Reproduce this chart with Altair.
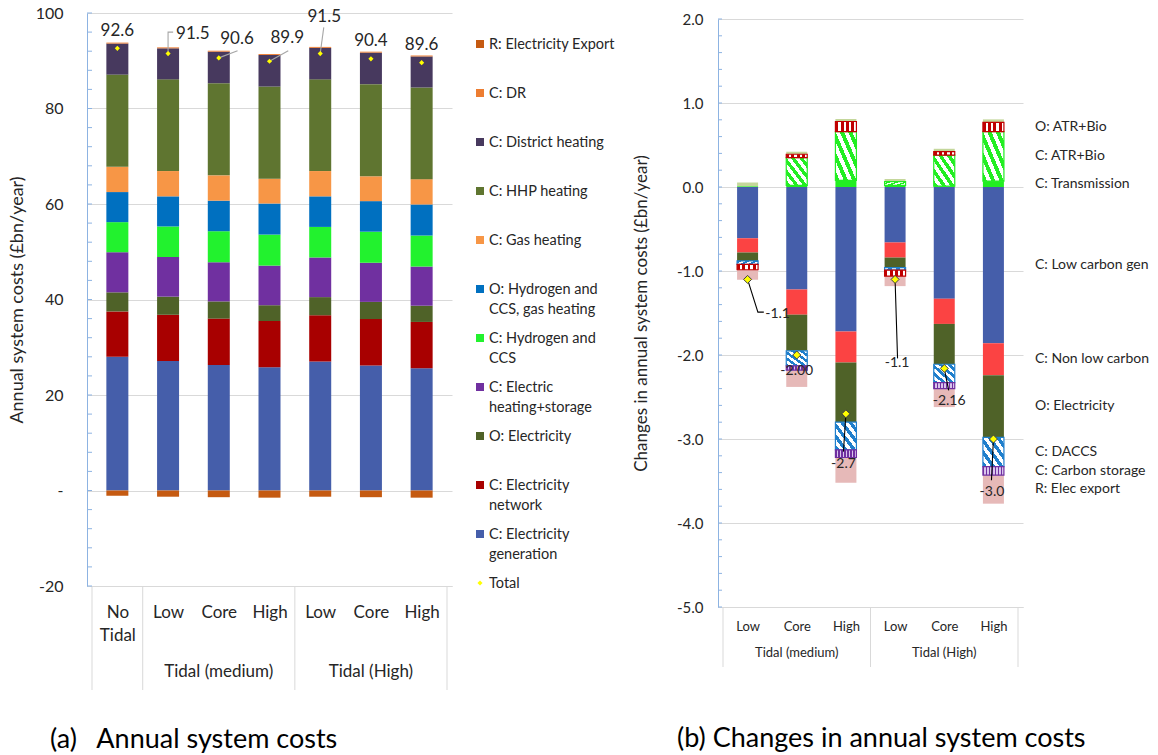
import json

import altair as alt
import pandas as pd

FONT = "Lato"
INK = "#262626"
AXIS_BLUE = "#8DB3E2"
GRID = "#D9D9D9"
YELLOW = "#FFFF00"

# ===================== (a) Annual system costs (£bn/year) =====================
A_SCENARIOS = ["No Tidal", "Low", "Core", "High", "Low", "Core", "High"]
A_GROUPS = ["Tidal (medium)", "Tidal (High)"]
A_GROUP_MEMBERS = [[1, 2, 3], [4, 5, 6]]

# stacking order, from the zero line outwards
A_SERIES = [
    "C: Electricity generation", "C: Electricity network", "O: Electricity",
    "C: Electric heating+storage", "C: Hydrogen and CCS",
    "O: Hydrogen and CCS, gas heating", "C: Gas heating", "C: HHP heating",
    "C: District heating", "C: DR", "R: Electricity Export",
]
A_COLOURS = ["#455EAA", "#A80000", "#4F6228", "#7030A0", "#22F22E", "#0070C0",
             "#F79646", "#5F7530", "#47395E", "#ED7D31", "#C55A11"]

A_ELEC_GENERATION = [28.0, 27.1, 26.3, 25.8, 27.0, 26.2, 25.6]
A_ELEC_NETWORK = [9.5, 9.7, 9.7, 9.7, 9.7, 9.7, 9.7]
A_O_ELECTRICITY = [4.0, 3.8, 3.6, 3.3, 3.8, 3.6, 3.4]
A_ELEC_HEATING = [8.4, 8.3, 8.2, 8.3, 8.3, 8.2, 8.2]
A_HYDROGEN_CCS = [6.3, 6.4, 6.5, 6.5, 6.4, 6.5, 6.5]
A_O_HYDROGEN_GAS = [6.3, 6.3, 6.4, 6.5, 6.4, 6.4, 6.5]
A_GAS_HEATING = [5.3, 5.3, 5.3, 5.2, 5.3, 5.2, 5.3]
A_HHP_HEATING = [19.3, 19.2, 19.3, 19.3, 19.2, 19.3, 19.2]
A_DISTRICT_HEATING = [6.5, 6.5, 6.6, 6.6, 6.6, 6.6, 6.5]
A_DR = [0.2, 0.2, 0.2, 0.2, 0.2, 0.2, 0.2]
A_ELEC_EXPORT = [-1.1, -1.3, -1.4, -1.5, -1.3, -1.4, -1.5]
A_VALUES = [A_ELEC_GENERATION, A_ELEC_NETWORK, A_O_ELECTRICITY, A_ELEC_HEATING,
            A_HYDROGEN_CCS, A_O_HYDROGEN_GAS, A_GAS_HEATING, A_HHP_HEATING,
            A_DISTRICT_HEATING, A_DR, A_ELEC_EXPORT]

A_TOTAL = [92.6, 91.5, 90.6, 89.9, 91.5, 90.4, 89.6]
A_TOTAL_TEXT = ["92.6", "91.5", "90.6", "89.9", "91.5", "90.4", "89.6"]

A_TICKS = [-20, 0, 20, 40, 60, 80, 100]
A_TICK_LABELS = ["-20", "-", "20", "40", "60", "80", "100"]

# legend, top to bottom
A_LEGEND_TEXT = [
    "R: Electricity Export", "C: DR", "C: District heating", "C: HHP heating",
    "C: Gas heating", " O: Hydrogen and\nCCS, gas heating", "C: Hydrogen and\nCCS",
    "C: Electric\nheating+storage", "O: Electricity", "C: Electricity\nnetwork",
    "C: Electricity\ngeneration", "Total",
]

# total call-outs: label anchor (category units, £bn) and leader-line bends
A_LABEL_AT = [(0.0, 96.2), (1.49, 95.6), (2.36, 94.5), (3.35, 94.7),
              (4.08, 99.1), (5.0, 94.2), (6.0, 93.3)]
A_LEADERS = {1: [(1.0, 96.0), (1.1, 96.0)], 2: [(2.37, 92.1)],
             3: [(3.37, 92.1)], 4: [(4.07, 97.0)]}

# ================= (b) Changes in annual system costs (£bn/year) =================
B_SCENARIOS = ["Low", "Core", "High", "Low", "Core", "High"]
B_GROUPS = ["Tidal (medium)", "Tidal (High)"]
B_GROUP_MEMBERS = [[0, 1, 2], [3, 4, 5]]

B_SERIES = ["C: Transmission", "C: Low carbon gen", "C: Non low carbon gen",
            "O: Electricity", "C: ATR+Bio", "C: DACCS", "O: ATR+Bio",
            "C: Carbon storage", "R: Elec export", "C: Other"]

B_TRANSMISSION = [0.01, 0.02, 0.08, 0.02, 0.01, 0.07]
B_LOW_CARBON_GEN = [-0.61, -1.22, -1.72, -0.66, -1.33, -1.86]
B_NON_LOW_CARBON_GEN = [-0.17, -0.30, -0.37, -0.18, -0.30, -0.38]
B_O_ELECTRICITY = [-0.10, -0.43, -0.71, -0.12, -0.48, -0.74]
B_C_ATR_BIO = [0.0, 0.33, 0.58, 0.045, 0.37, 0.59]
B_DACCS = [-0.04, -0.18, -0.33, -0.03, -0.22, -0.35]
B_O_ATR_BIO = [-0.065, 0.04, 0.12, -0.07, 0.04, 0.11]
B_CARBON_STORAGE = [0.0, -0.05, -0.09, 0.0, -0.07, -0.10]
B_ELEC_EXPORT = [-0.12, -0.20, -0.30, -0.12, -0.22, -0.34]
B_OTHER = [0.045, 0.03, 0.03, 0.03, 0.035, 0.035]
B_VALUES = [B_TRANSMISSION, B_LOW_CARBON_GEN, B_NON_LOW_CARBON_GEN, B_O_ELECTRICITY,
            B_C_ATR_BIO, B_DACCS, B_O_ATR_BIO, B_CARBON_STORAGE, B_ELEC_EXPORT, B_OTHER]
B_LABELLED = [s for s in B_SERIES if s != "C: Other"]

B_TOTAL = [-1.1, -2.00, -2.7, -1.1, -2.16, -3.0]
B_TOTAL_TEXT = ["-1.1", "-2.00", "-2.7", "-1.1", "-2.16", "-3.0"]

B_TICKS = [-5, -4, -3, -2, -1, 0, 1, 2]
B_TICK_LABELS = ["-5.0", "-4.0", "-3.0", "-2.0", "-1.0", "0.0", "1.0", "2.0"]

B_LABEL_AT = [(0.61, -1.51), (1.0, -2.19), (1.95, -3.30), (3.04, -2.10),
              (4.10, -2.55), (4.97, -3.63)]
B_LEADERS = {0: [(0.21, -1.49), (0.33, -1.49)], 2: [(1.95, -3.15)],
             3: [(3.05, -2.04)], 4: [(4.09, -2.42)], 5: [(4.96, -3.49)]}


def stripes(c1, c2, n, x1, y1, x2, y2, share=0.5):
    """Hard-edged linear gradient that reads as a hatch / dotted fill."""
    stops = []
    for i in range(n):
        a, b, c = i / n, (i + share) / n, (i + 1) / n
        stops += [{"offset": a, "color": c1}, {"offset": b, "color": c1},
                  {"offset": b, "color": c2}, {"offset": c, "color": c2}]
    return {"gradient": "linear", "x1": x1, "y1": y1, "x2": x2, "y2": y2, "stops": stops}


B_SOLID = {
    "C: Transmission": "#22EE22",
    "C: Low carbon gen": "#455EAA",
    "C: Non low carbon gen": "#FB4343",
    "O: Electricity": "#4F6228",
    "R: Elec export": "#E6B9B8",
    "C: Other": "#C4D79B",
}
B_PATTERNS = {
    "C: ATR+Bio": (stripes("#22EE22", "#FFFFFF", 5, 0, 1, 1, 0), "#22EE22"),
    "C: DACCS": (stripes("#1F7FCC", "#FFFFFF", 5, 0, 1, 1, 0), "#1F7FCC"),
    "O: ATR+Bio": (stripes("#C00000", "#FFFFFF", 4, 0, 0, 1, 0, share=0.55), "#C00000"),
    "C: Carbon storage": (stripes("#7030A0", "#D9C4EC", 7, 0, 0, 1, 0), "#7030A0"),
}


def stack_frame(series, values, colours):
    rows = []
    for rank, (name, vals) in enumerate(zip(series, values)):
        for bar, v in enumerate(vals):
            if v != 0:
                rows.append({"bar": bar, "series": name, "rank": rank, "value": v,
                             "colour": colours.get(name, "#FFFFFF")})
    return pd.DataFrame(rows)


def leader_frame(totals, leaders):
    rows = []
    for bar, pts in leaders.items():
        for step, (x, y) in enumerate([(bar, totals[bar])] + pts):
            rows.append({"bar": bar, "step": step, "lx": x, "ly": y})
    return pd.DataFrame(rows)


def build_panel(cfg):
    n = len(cfg["scenarios"])
    W = cfg["width"]
    top = cfg.get("range_top", 0)
    H = cfg["height"] + top
    xs = alt.Scale(domain=[-0.5, n - 0.5], nice=False, zero=False)
    ys = alt.Scale(domain=[cfg["ticks"][0], cfg["ticks"][-1]], range=[H, top],
                   nice=False, zero=False)
    x_axis = alt.Axis(
        values=list(range(n)),
        labelExpr=f"split({json.dumps(cfg['scenarios'])}[datum.value], ' ')",
        title=None, ticks=False, grid=False, domainColor=GRID,
        labelFont=FONT, labelFontSize=cfg["cat_size"], labelColor=INK,
        labelPadding=cfg["cat_pad"], labelLineHeight=cfg["cat_line"],
        labelOverlap=False, labelFlush=False, labelBaseline="top",
    )
    y_axis = alt.Axis(
        values=cfg["ticks"],
        labelExpr=f"{json.dumps(cfg['tick_labels'])}[indexof({json.dumps(cfg['ticks'])}, datum.value)]",
        title=cfg["y_title"], titleFont=FONT, titleFontSize=cfg["y_title_size"],
        titleFontWeight="normal", titleColor=INK, titlePadding=cfg["y_title_pad"],
        labelFont=FONT, labelFontSize=cfg["tick_size"], labelColor=INK,
        labelPadding=cfg["tick_pad"], ticks=False, domainColor=AXIS_BLUE,
        gridColor=GRID, labelOverlap=False,
    )

    def X(f):
        return alt.X(f, type="quantitative", scale=xs, axis=x_axis)

    def Y(f):
        return alt.Y(f, type="quantitative", scale=ys, axis=y_axis)

    solid = cfg["solid"]
    base = alt.Chart(stack_frame(cfg["series"], cfg["values"], solid)).transform_stack(
        stack="value", groupby=["bar"], as_=["v0", "v1"],
        sort=[alt.SortField(field="rank", order="ascending")], offset="zero",
    )
    layers = [
        base.transform_filter(alt.FieldOneOfPredicate(field="series", oneOf=list(solid)))
        .mark_bar(size=cfg["bar_size"])
        .encode(x=X("bar"), y=Y("v0"), y2=alt.Y2("v1"),
                color=alt.Color("colour:N", scale=None))
    ]
    for name, (fill, edge) in cfg["patterns"].items():
        layers.append(
            base.transform_filter(alt.datum.series == name)
            .mark_bar(size=cfg["bar_size"], fill=fill, stroke=edge, strokeWidth=1.2)
            .encode(x=X("bar"), y=Y("v0"), y2=alt.Y2("v1"))
        )

    # category separators running down through the label area
    seps = {-0.5, n - 0.5}
    for m in cfg["members"]:
        seps |= {m[0] - 0.5, m[-1] + 0.5}
    layers.append(
        alt.Chart(pd.DataFrame({"sx": sorted(seps)})).mark_rule(color=GRID)
        .encode(x=X("sx"), y=alt.value(H), y2=alt.value(H + cfg["sep_len"]))
    )
    layers.append(
        alt.Chart(pd.DataFrame({"group": cfg["groups"],
                                "gx": [sum(m) / len(m) for m in cfg["members"]]}))
        .mark_text(font=FONT, fontSize=cfg["cat_size"], color=INK, baseline="middle")
        .encode(x=X("gx"), y=alt.value(H + cfg["group_dy"]), text="group:N")
    )
    # minor ticks on the inner side of the value axis
    layers.append(
        alt.Chart(pd.DataFrame({"t": cfg["minor"]})).mark_rule(color=AXIS_BLUE)
        .encode(y=Y("t"), x=alt.value(0), x2=alt.value(cfg["tick_len"]))
    )
    layers.append(
        alt.Chart(leader_frame(cfg["totals"], cfg["leaders"]))
        .mark_line(color=cfg["leader_colour"], strokeWidth=1.1)
        .encode(x=X("lx"), y=Y("ly"), detail="bar:N", order="step:Q")
    )
    layers.append(
        alt.Chart(pd.DataFrame({"bar": list(range(n)), "total": cfg["totals"]}))
        .mark_point(shape="diamond", filled=True, opacity=1, size=cfg["diamond_size"],
                    fill=YELLOW, stroke=cfg["diamond_edge"],
                    strokeWidth=cfg["diamond_edge_w"])
        .encode(x=X("bar"), y=Y("total"))
    )
    layers.append(
        alt.Chart(pd.DataFrame({"lx": [p[0] for p in cfg["label_at"]],
                                "ly": [p[1] for p in cfg["label_at"]],
                                "text": cfg["total_text"]}))
        .mark_text(font=FONT, fontSize=cfg["value_size"], color=INK, baseline="middle")
        .encode(x=X("lx"), y=Y("ly"), text="text:N")
    )
    if cfg.get("series_labels"):
        layers.append(
            base.transform_filter(alt.datum.bar == n - 1)
            .transform_filter(alt.FieldOneOfPredicate(field="series", oneOf=cfg["series_labels"]))
            .transform_calculate(mid="(datum.v0 + datum.v1) / 2")
            .mark_text(font=FONT, fontSize=14, color=INK, align="left", baseline="middle",
                       limit=121, ellipsis=" ")
            .encode(x=alt.value(W + 12), y=Y("mid"), text="series:N")
        )

    return alt.layer(*layers).properties(
        width=W, height=H,
        title=alt.TitleParams(cfg["caption"], orient="bottom", anchor="start", frame="group",
                              baseline="top", dx=cfg["caption_dx"], offset=cfg["caption_offset"],
                              font=FONT, fontSize=27, fontWeight="normal", color="#000000"),
    )


left = build_panel(dict(
    scenarios=A_SCENARIOS, groups=A_GROUPS, members=A_GROUP_MEMBERS,
    series=A_SERIES, values=A_VALUES,
    solid=dict(zip(A_SERIES, A_COLOURS)), patterns={},
    totals=A_TOTAL, total_text=A_TOTAL_TEXT, label_at=A_LABEL_AT, leaders=A_LEADERS,
    ticks=A_TICKS, tick_labels=A_TICK_LABELS, minor=list(range(-20, 101, 4)),
    y_title="Annual system costs (£bn/year)", y_title_size=18, y_title_pad=9,
    tick_size=16, tick_pad=24, tick_len=5,
    cat_size=17, cat_pad=18, cat_line=23, sep_len=104, group_dy=86,
    width=365, height=573, bar_size=22,
    leader_colour="#A6A6A6", diamond_size=26, diamond_edge=YELLOW, diamond_edge_w=0,
    value_size=17, caption="(a)\u2002\u00a0Annual system costs", caption_dx=-37,
    caption_offset=36,
))

right = build_panel(dict(
    scenarios=B_SCENARIOS, groups=B_GROUPS, members=B_GROUP_MEMBERS,
    series=B_SERIES, values=B_VALUES, solid=B_SOLID, patterns=B_PATTERNS,
    totals=B_TOTAL, total_text=B_TOTAL_TEXT, label_at=B_LABEL_AT, leaders=B_LEADERS,
    ticks=B_TICKS, tick_labels=B_TICK_LABELS,
    minor=[round(-5 + 0.2 * i, 1) for i in range(36)],
    y_title="Changes in annual system costs (£bn/year)", y_title_size=17, y_title_pad=26,
    tick_size=15, tick_pad=15, tick_len=4,
    cat_size=13, cat_pad=13, cat_line=16, sep_len=60, group_dy=46,
    width=305, height=588, range_top=6, bar_size=21,
    leader_colour="#000000", diamond_size=64, diamond_edge="#404040", diamond_edge_w=1,
    value_size=14, series_labels=B_LABELLED,
    caption="(b) Changes in annual system costs", caption_dx=-41, caption_offset=58,
))

# legend for panel (a)
legend_df = pd.DataFrame({
    "k": list(range(len(A_LEGEND_TEXT))),
    "label": A_LEGEND_TEXT,
    "colour": A_COLOURS[::-1] + [YELLOW],
    "shape": ["square"] * len(A_SERIES) + ["diamond"],
    "size": [64] * len(A_SERIES) + [26],
})
legend_y = alt.Y("k:O", axis=None, scale=alt.Scale(type="point", padding=0.633))
legend_a = alt.layer(
    alt.Chart(legend_df).mark_point(filled=True, opacity=1).encode(
        x=alt.value(4), y=legend_y,
        color=alt.Color("colour:N", scale=None),
        shape=alt.Shape("shape:N", scale=None),
        size=alt.Size("size:Q", scale=None),
    ),
    alt.Chart(legend_df).mark_text(
        font=FONT, fontSize=14.5, color=INK, align="left", baseline="top",
        dy=-6, lineBreak="\n", lineHeight=20,
    ).encode(x=alt.value(13), y=legend_y, text="label:N"),
).properties(width=140, height=601)

chart = alt.hconcat(
    alt.hconcat(left, legend_a, spacing=24),
    right,
    spacing=16,
).properties(
    padding={"left": 8, "top": 5, "right": 0, "bottom": 0}, background="white",
).configure_view(strokeWidth=0).configure_axis(labelFont=FONT, titleFont=FONT)

chart.save("out.html", embed_options={"renderer": "svg", "actions": False})
